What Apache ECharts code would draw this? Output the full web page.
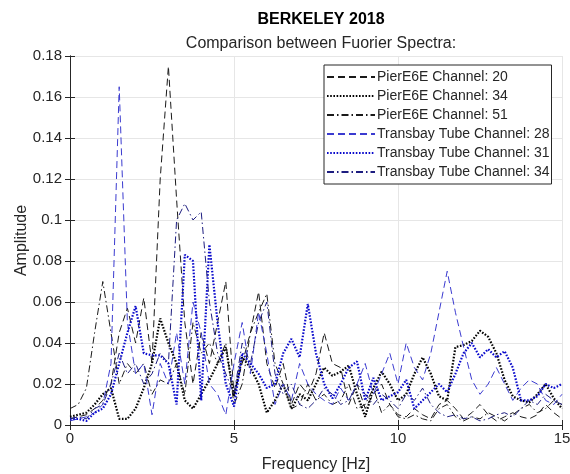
<!DOCTYPE html>
<html>
<head>
<meta charset="utf-8">
<title>BERKELEY 2018</title>
<script src="https://cdn.jsdelivr.net/npm/echarts@6/dist/echarts.min.js"></script>
<style>
  html, body { margin: 0; padding: 0; background: #fff; }
  #chart { width: 570px; height: 474px; }
</style>
</head>
<body>
<div id="chart"></div>
<script>
// frequency grid (Hz), 0.25 step
const freq = [0, 0.25, 0.5, 0.75, 1, 1.25, 1.5, 1.75, 2, 2.25, 2.5, 2.75, 3, 3.25, 3.5, 3.75,
  4, 4.25, 4.5, 4.75, 5, 5.25, 5.5, 5.75, 6, 6.25, 6.5, 6.75, 7, 7.25, 7.5, 7.75,
  8, 8.25, 8.5, 8.75, 9, 9.25, 9.5, 9.75, 10, 10.25, 10.5, 10.75, 11, 11.25, 11.5, 11.75,
  12, 12.25, 12.5, 12.75, 13, 13.25, 13.5, 13.75, 14, 14.25, 14.5, 14.75, 15];

const pier20 = [0.003, 0.004, 0.005, 0.008, 0.012, 0.02, 0.045, 0.057, 0.04, 0.062, 0.03, 0.12, 0.175, 0.11, 0.05, 0.02,
  0.045, 0.03, 0.05, 0.07, 0.015, 0.03, 0.045, 0.065, 0.03, 0.018, 0.03, 0.01, 0.02, 0.015, 0.025, 0.045,
  0.03, 0.028, 0.01, 0.02, 0.008, 0.015, 0.02, 0.01, 0.005, 0.004, 0.008, 0.005, 0.003, 0.01, 0.012, 0.008,
  0.003, 0.006, 0.01, 0.005, 0.002, 0.004, 0.006, 0.004, 0.003, 0.005, 0.01, 0.006, 0.003];

const pier34 = [0.004, 0.005, 0.006, 0.01, 0.015, 0.018, 0.003, 0.003, 0.008, 0.018, 0.03, 0.052, 0.04, 0.03, 0.012, 0.008,
  0.015, 0.022, 0.03, 0.038, 0.014, 0.033, 0.028, 0.02, 0.006, 0.012, 0.02, 0.008, 0.015, 0.012, 0.02, 0.028,
  0.024, 0.026, 0.029, 0.015, 0.004, 0.018, 0.026, 0.02, 0.012, 0.015, 0.025, 0.033, 0.025, 0.014, 0.012, 0.038,
  0.039, 0.041, 0.046, 0.043, 0.035, 0.022, 0.014, 0.012, 0.011, 0.015, 0.02, 0.013, 0.008];

const pier51 = [0.008, 0.01, 0.018, 0.045, 0.07, 0.045, 0.02, 0.03, 0.025, 0.03, 0.015, 0.022, 0.02, 0.03, 0.015, 0.05,
  0.035, 0.04, 0.03, 0.04, 0.01, 0.02, 0.045, 0.055, 0.064, 0.03, 0.02, 0.008, 0.01, 0.02, 0.012, 0.015,
  0.01, 0.012, 0.02, 0.008, 0.01, 0.018, 0.006, 0.01, 0.004, 0.003, 0.005, 0.003, 0.002, 0.008, 0.01, 0.004,
  0.002, 0.004, 0.003, 0.006, 0.004, 0.002, 0.005, 0.008, 0.01, 0.006, 0.008, 0.012, 0.01];

const tube28 = [0.002, 0.003, 0.004, 0.006, 0.01, 0.03, 0.165, 0.05, 0.025, 0.03, 0.005, 0.03, 0.02, 0.045, 0.02, 0.06,
  0.045, 0.02, 0.015, 0.005, 0.03, 0.05, 0.025, 0.055, 0.035, 0.01, 0.02, 0.012, 0.03, 0.02, 0.015, 0.012,
  0.01, 0.018, 0.012, 0.02, 0.03, 0.015, 0.025, 0.035, 0.02, 0.04, 0.028, 0.022, 0.035, 0.055, 0.075, 0.055,
  0.038, 0.022, 0.015, 0.02, 0.028, 0.02, 0.012, 0.018, 0.022, 0.02, 0.012, 0.01, 0.015];

const tube31 = [0.003, 0.003, 0.002, 0.006, 0.008, 0.015, 0.03, 0.045, 0.058, 0.035, 0.034, 0.034, 0.03, 0.01, 0.083, 0.08,
  0.012, 0.088, 0.05, 0.02, 0.009, 0.035, 0.03, 0.025, 0.018, 0.02, 0.035, 0.042, 0.033, 0.059, 0.035, 0.02,
  0.013, 0.02, 0.028, 0.031, 0.012, 0.023, 0.012, 0.014, 0.016, 0.022, 0.008, 0.012, 0.016, 0.02, 0.016, 0.025,
  0.035, 0.04, 0.033, 0.037, 0.033, 0.036, 0.028, 0.012, 0.012, 0.014, 0.02, 0.018, 0.02];

const tube34 = [0.003, 0.004, 0.003, 0.008, 0.01, 0.02, 0.035, 0.025, 0.03, 0.02, 0.025, 0.035, 0.03, 0.1, 0.108, 0.1,
  0.104, 0.06, 0.035, 0.025, 0.015, 0.04, 0.03, 0.05, 0.06, 0.025, 0.015, 0.02, 0.01, 0.008, 0.012, 0.018,
  0.015, 0.01, 0.012, 0.02, 0.015, 0.01, 0.015, 0.012, 0.008, 0.015, 0.012, 0.018, 0.01, 0.006, 0.004, 0.005,
  0.003, 0.004, 0.002, 0.003, 0.005, 0.006, 0.004, 0.008, 0.012, 0.01, 0.015, 0.012, 0.01];

const xTicks = [0, 5, 10, 15];
const yTicks = [0, 0.02, 0.04, 0.06, 0.08, 0.1, 0.12, 0.14, 0.16, 0.18];

const FONT = "'Liberation Sans', Arial, sans-serif";
const TXT = '#262626';

const DASH = [7, 4];
const DOT = [1.6, 1.6];
const DASHDOT = [7, 3, 1.5, 3];

let pairs = (ys) => freq.map((f, i) => [f, ys[i]]);

let mkSeries = (name, ys, color, type, width) => ({
  name: name,
  type: 'line',
  data: pairs(ys),
  showSymbol: false,
  symbol: 'none',
  lineStyle: { color: color, width: width, type: type },
  itemStyle: { color: color },
  emphasis: { disabled: true }
});

const chart = echarts.init(document.getElementById('chart'), null, { renderer: 'canvas' });

// matlab-ish axis: ticks inside, box on all sides
let axisCommon = {
  min: 0,
  axisLine: { show: true, lineStyle: { color: TXT, width: 1 } },
  axisTick: { show: true, inside: true, length: 5, lineStyle: { color: TXT } },
  splitLine: { show: true, lineStyle: { color: '#e6e6e6', width: 1 } }
};

chart.setOption({
  animation: false,
  backgroundColor: '#fff',
  textStyle: { fontFamily: FONT },
  title: [
    {
      text: 'BERKELEY 2018',
      left: 316, top: 7, textAlign: 'center',
      textStyle: { fontFamily: FONT, fontSize: 16, fontWeight: 'bold', color: '#000' }
    },
    {
      text: 'Comparison between Fuorier Spectra:',
      left: 316, top: 31, textAlign: 'center',
      textStyle: { fontFamily: FONT, fontSize: 16, fontWeight: 'normal', color: TXT }
    }
  ],
  legend: {
    orient: 'vertical',
    left: 324, top: 65,
    itemWidth: 48, itemHeight: 10, itemGap: 5,
    padding: [5, 2, 5, 2],
    backgroundColor: '#fff',
    borderColor: TXT, borderWidth: 1,
    itemStyle: { opacity: 0 },
    textStyle: { fontFamily: FONT, fontSize: 14, color: TXT, padding: [0, 0, 0, -3] },
    data: ['PierE6E Channel: 20', 'PierE6E Channel: 34', 'PierE6E Channel: 51',
      'Transbay Tube Channel: 28', 'Transbay Tube Channel: 31', 'Transbay Tube Channel: 34']
  },
  grid: { left: 70, right: 8, top: 56, bottom: 49, containLabel: false, outerBoundsMode: 'none' },
  xAxis: [
    Object.assign({}, axisCommon, {
      type: 'value', max: 15, interval: 5, position: 'bottom',
      name: 'Frequency [Hz]', nameLocation: 'middle', nameGap: 32,
      nameTextStyle: { fontFamily: FONT, fontSize: 16, color: TXT },
      axisLabel: { fontFamily: FONT, fontSize: 15, color: TXT, margin: 6 }
    }),
    Object.assign({}, axisCommon, {
      type: 'value', max: 15, interval: 5, position: 'top',
      axisLabel: { show: false }, splitLine: { show: false }
    })
  ],
  yAxis: [
    Object.assign({}, axisCommon, {
      type: 'value', max: 0.18, interval: 0.02, position: 'left',
      name: 'Amplitude', nameLocation: 'middle', nameGap: 40, nameMoveOverlap: false,
      nameTextStyle: { fontFamily: FONT, fontSize: 16, color: TXT },
      axisLabel: { fontFamily: FONT, fontSize: 15, color: TXT, margin: 8 }
    }),
    Object.assign({}, axisCommon, {
      type: 'value', max: 0.18, interval: 0.02, position: 'right',
      axisLabel: { show: false }, splitLine: { show: false }
    })
  ],
  series: [
    mkSeries('PierE6E Channel: 20', pier20, '#1a1a1a', DASH, 1),
    mkSeries('PierE6E Channel: 34', pier34, '#000000', DOT, 2.2),
    mkSeries('PierE6E Channel: 51', pier51, '#1a1a1a', DASHDOT, 1),
    mkSeries('Transbay Tube Channel: 28', tube28, '#3b3bd0', DASH, 1),
    mkSeries('Transbay Tube Channel: 31', tube31, '#0a0acc', DOT, 2.2),
    mkSeries('Transbay Tube Channel: 34', tube34, '#1d1d80', DASHDOT, 1)
  ]
});
</script>
</body>
</html>
